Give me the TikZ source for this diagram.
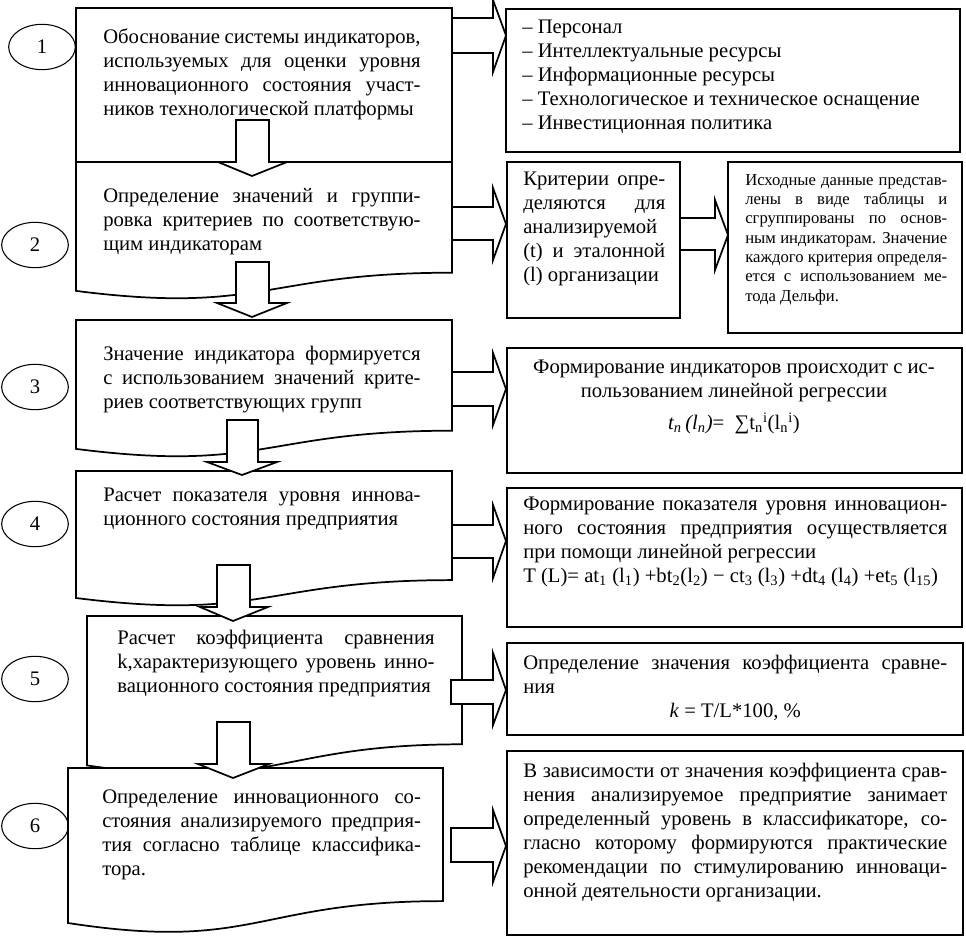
\documentclass[tikz,border=0pt]{standalone}
\usepackage{fontspec}
\setmainfont{Liberation Serif}
\usetikzlibrary{shapes.geometric}
\hyphenpenalty=10000
\begin{document}
\begin{tikzpicture}[x=0.75pt,y=-0.75pt,
  stage/.style={draw,line width=1.3pt,fill=white},
  card/.style={draw,line width=1.3pt},
  bigarrow/.style={draw,line width=1.3pt,fill=white,line join=miter},
  num/.style={draw,ellipse,line width=0.8pt,minimum width=50pt,minimum height=34pt,inner sep=0pt,font=\fontsize{15.5}{18}\selectfont},
  txt/.style={anchor=north west,inner sep=0pt,align=justify,font=\fontsize{15.5}{18}\selectfont}]
\useasboundingbox (0,0) rectangle (966,938);
% left column
\path[stage] (76,8) rectangle (452,162);
\path[stage] (76,162) -- (452,162) -- (452,272.7) .. controls (264,272.7) and (264,314.8) .. (76,290.9) -- cycle;
\path[stage] (76,320) -- (452,320) -- (452,430.7) .. controls (264,430.7) and (264,472.8) .. (76,448.9) -- cycle;
\path[stage] (76,471) -- (452,471) -- (452,580.1) .. controls (264,580.1) and (264,621.6) .. (76,598) -- cycle;
\path[stage] (87,616) -- (462,616) -- (462,744.3) .. controls (274.5,744.3) and (274.5,793.2) .. (87,765.4) -- cycle;
\path[stage] (68,768) -- (443,768) -- (443,901.1) .. controls (255.5,901.1) and (255.5,951.8) .. (68,923) -- cycle;
\node[num] (n1) at (42,47) {1};
\node[num] (n2) at (35,245) {2};
\node[num] (n3) at (35,387) {3};
\node[num] (n4) at (35,524) {4};
\node[num] (n5) at (35,679) {5};
\node[num] (n6) at (35,826) {6};
\node[txt,text width=238pt] (s1) at (103,28) {Обоснование системы индикаторов,\linebreak используемых для оценки уровня\linebreak инновационного состояния участ-\linebreak ников технологической платформы};
\node[txt,text width=238pt] (s2) at (103,188) {Определение значений и группи-\linebreak ровка критериев по соответствую-\linebreak щим индикаторам};
\node[txt,text width=238pt] (s3) at (103,346) {Значение индикатора формируется\linebreak с использованием значений крите-\linebreak риев соответствующих групп};
\node[txt,text width=238pt] (s4) at (103,488) {Расчет показателя уровня иннова-\linebreak ционного состояния предприятия};
\node[txt,text width=238pt] (s5) at (117,630) {Расчет коэффициента сравнения\linebreak k,характеризующего уровень инно-\linebreak вационного состояния предприятия};
\node[txt,text width=239pt] (s6) at (102,790) {Определение инновационного со-\linebreak стояния анализируемого предприя-\linebreak тия согласно таблице классифика-\linebreak тора.};
% right column
\path[card] (506,9) rectangle (960,152);
\path[card] (507,162) rectangle (680,318);
\path[card] (728,162) rectangle (962,333);
\path[card] (507,348) rectangle (962,473);
\path[card] (507,488) rectangle (962,627);
\path[card] (507,643) rectangle (963,735);
\path[card] (507,751) rectangle (963,935);
\node[txt,align=left] (r1) at (522,20) {– Персонал\\ – Интеллектуальные ресурсы\\ – Информационные ресурсы\\ – Технологическое и техническое оснащение\\ – Инвестиционная политика};
\node[txt,text width=106.5pt] (r2) at (523,172) {Критерии опре-\linebreak деляются для\linebreak анализируемой\linebreak (t) и эталонной\linebreak (l) организации};
\node[txt,text width=151.5pt,font=\fontsize{12.5}{14.5}\selectfont] (r2b) at (745,174) {Исходные данные представ-\linebreak лены в виде таблицы и\linebreak сгруппированы по основ-\linebreak ным индикаторам. Значение\linebreak каждого критерия определя-\linebreak ется с использованием ме-\linebreak тода Дельфи.};
\node[txt,anchor=north,align=center] (r3) at (734,360) {Формирование индикаторов происходит с ис-\\ пользованием линейной регрессии\\[6pt] \textit{t\textsubscript{n}\,(l\textsubscript{n})}=~ ∑t\textsubscript{n}\textsuperscript{i}(l\textsubscript{n}\textsuperscript{i})};
\node[txt,text width=318pt] (r4) at (523,497) {Формирование показателя уровня инновацион-\linebreak ного состояния предприятия осуществляется\linebreak при помощи линейной регрессии\\ T (L)= at\textsubscript{1} (l\textsubscript{1}) +bt\textsubscript{2}(l\textsubscript{2}) − ct\textsubscript{3} (l\textsubscript{3}) +dt\textsubscript{4} (l\textsubscript{4}) +et\textsubscript{5} (l\textsubscript{15})};
\node[txt,text width=318pt] (r5) at (523,655) {Определение значения коэффициента сравне-\linebreak ния\\ \makebox[\linewidth]{\textit{k} = T/L*100, \%}};
\node[txt,text width=318pt] (r6) at (523,763) {В зависимости от значения коэффициента срав-\linebreak нения анализируемое предприятие занимает\linebreak определенный уровень в классификаторе, со-\linebreak гласно которому формируются практические\linebreak рекомендации по стимулированию инноваци-\linebreak онной деятельности организации.};
% block arrows down
\path[bigarrow] (236,120) -- (269,120) -- (269,162) -- (287,162) -- (252,176) -- (218,162) -- (236,162) -- cycle;
\path[bigarrow] (236,262) -- (269,262) -- (269,303) -- (287,303) -- (252,317) -- (217,303) -- (236,303) -- cycle;
\path[bigarrow] (227,420) -- (258,420) -- (258,462) -- (277,462) -- (242,475) -- (207,462) -- (227,462) -- cycle;
\path[bigarrow] (217,565) -- (250,565) -- (250,607) -- (268,607) -- (233,621) -- (200,607) -- (217,607) -- cycle;
\path[bigarrow] (217,722) -- (250,722) -- (250,764) -- (269,764) -- (233,778) -- (198,764) -- (217,764) -- cycle;
% block arrows right
\path[bigarrow] (452,18) -- (493,18) -- (493,0) -- (506,35.5) -- (493,72) -- (493,53) -- (452,53) -- cycle;
\path[bigarrow] (452,207) -- (493,207) -- (493,188) -- (506,224) -- (493,260) -- (493,240) -- (452,240) -- cycle;
\path[bigarrow] (680,218) -- (715,218) -- (715,200) -- (728,235) -- (715,270) -- (715,250) -- (680,250) -- cycle;
\path[bigarrow] (452,372) -- (493,372) -- (493,353) -- (506,389) -- (493,425) -- (493,406) -- (452,406) -- cycle;
\path[bigarrow] (452,525) -- (493,525) -- (493,505) -- (506,541) -- (493,578) -- (493,558) -- (452,558) -- cycle;
\path[bigarrow] (451,680) -- (493,680) -- (493,653) -- (506,690) -- (493,725) -- (493,704) -- (451,704) -- cycle;
\path[bigarrow] (451,828) -- (493,828) -- (493,810) -- (506,846) -- (493,882) -- (493,862) -- (451,862) -- cycle;
\end{tikzpicture}
\end{document}
